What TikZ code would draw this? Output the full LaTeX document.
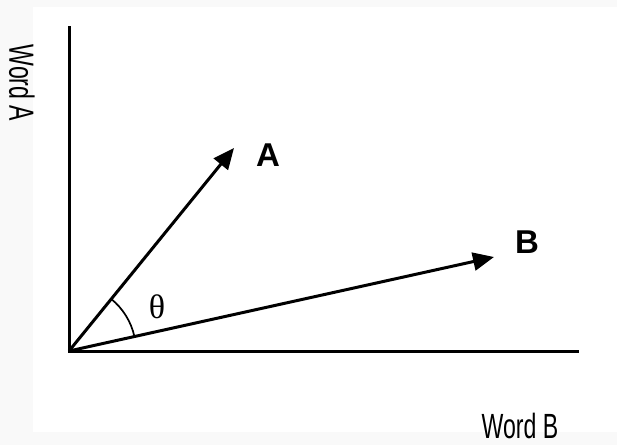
\documentclass[tikz,border=0pt]{standalone}
\usepackage{fontspec}
\setmainfont{Liberation Sans}
\newfontfamily\serifgr{Liberation Serif}
\usetikzlibrary{arrows.meta}
\definecolor{bggray}{HTML}{F9F9F9}
\tikzset{
  axis/.style={line width=3pt, line cap=rect},
  vec/.style={line width=3pt, -{Triangle[length=21pt,width=18pt]}},
  anglearc/.style={line width=1.7pt},
  vlabel/.style={font=\fontsize{33}{33}\selectfont\bfseries, inner sep=0pt},
  wlabel/.style={font=\fontsize{35}{35}\selectfont, inner sep=0pt},
}
\begin{document}
\begin{tikzpicture}[x=1pt,y=1pt]
\useasboundingbox (0,0) rectangle (617,445);
\fill[bggray] (0,0) rectangle (617,445);
\fill[white] (33,13) rectangle (617,438);
\coordinate (O) at (69,94);
\coordinate (ytop) at (69,417);
\coordinate (xend) at (577,94);
\coordinate (tipA) at (234,297);
\coordinate (tipB) at (494,188);
\draw[axis] (ytop) -- (O) -- (xend);
\draw[vec] (O) -- (tipA);
\draw[vec] (O) -- (tipB);
\draw[anglearc] ([shift={(12.5:67pt)}]O) arc[start angle=12.5, end angle=51, radius=67pt];
\node[vlabel] (labA) at (268,290) {A};
\node[vlabel] (labB) at (527,203) {B};
\node[font=\fontsize{34}{34}\selectfont\serifgr, inner sep=0pt] (theta) at (157,138) {θ};
\node[wlabel, rotate=-90] (wordA) at (22,362) {\scalebox{0.66}[1]{Word A}};
\node[wlabel] (wordB) at (520,19) {\scalebox{0.66}[1]{Word B}};
\end{tikzpicture}
\end{document}
